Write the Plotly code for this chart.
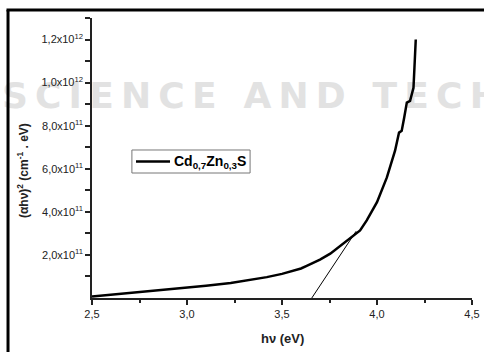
import plotly.graph_objects as go

# Data
hv = [2.50, 2.60, 2.75, 2.86, 2.95, 3.00, 3.10, 3.23, 3.35, 3.42, 3.50, 3.56, 3.60,
      3.63, 3.65, 3.70, 3.754, 3.789, 3.83, 3.876, 3.911, 3.946, 3.981, 4.00, 4.052,
      4.095, 4.116, 4.13, 4.143, 4.157, 4.174, 4.192, 4.197, 4.204]
ahv2_e11 = [0.07, 0.15, 0.27, 0.35, 0.42, 0.47, 0.57, 0.70, 0.86, 0.97, 1.12, 1.26, 1.37,
            1.49, 1.57, 1.78, 2.06, 2.30, 2.58, 2.91, 3.14, 3.60, 4.14, 4.45, 5.60,
            6.84, 7.68, 7.76, 8.37, 9.07, 9.15, 9.76, 10.68, 12.0]
ahv2 = [v * 1e11 for v in ahv2_e11]

tangent_x = [3.592, 3.89]
tangent_y = [-0.86e11, 3.1e11]

x_ticks = [2.5, 3.0, 3.5, 4.0, 4.5]
x_ticklabels = ["2,5", "3,0", "3,5", "4,0", "4,5"]
x_minor = [2.75, 3.25, 3.75, 4.25]
y_ticks = [2e11, 4e11, 6e11, 8e11, 1e12, 1.2e12]
y_ticklabels = ["2,0x10<sup>11</sup>", "4,0x10<sup>11</sup>", "6,0x10<sup>11</sup>",
                "8,0x10<sup>11</sup>", "1,0x10<sup>12</sup>", "1,2x10<sup>12</sup>"]
y_minor = [1e11, 3e11, 5e11, 7e11, 9e11, 1.1e12, 1.3e12]

series_name = "<b>Cd<sub>0,7</sub>Zn<sub>0,3</sub>S</b>"
watermark_words = ["SCIENCE", "AND", "TECHNOLOGY"]
watermark = "\u2009 \u2009".join("\u2009".join(w) for w in watermark_words)

FONT = "Liberation Sans, Arial, sans-serif"

fig = go.Figure()

fig.add_trace(go.Scatter(
    x=tangent_x, y=tangent_y, mode="lines",
    line=dict(color="black", width=1), showlegend=False, cliponaxis=False))

fig.add_trace(go.Scatter(
    x=hv, y=ahv2, mode="lines", name=series_name, showlegend=False,
    line=dict(color="black", width=2.5)))

# legend drawn by hand (box, sample line, label) in paper coordinates
lg_x0, lg_x1, lg_y0, lg_y1 = 0.105, 0.416, 0.4464, 0.5286
lg_ymid = (lg_y0 + lg_y1) / 2

fig.update_layout(
    width=484, height=352,
    margin=dict(l=92, r=12, t=18, b=54),
    paper_bgcolor="white", plot_bgcolor="rgba(0,0,0,0)",
    font=dict(family=FONT, size=11, color="#222"),
    showlegend=False,
    xaxis=dict(range=[2.5, 4.5], showgrid=False, zeroline=False,
               showline=True, linecolor="#222", linewidth=1.5,
               ticks="outside", ticklen=5, tickwidth=1.5, tickcolor="#222",
               tickvals=x_ticks, ticktext=x_ticklabels, automargin=False,
               minor=dict(tickvals=x_minor, ticks="outside", ticklen=3,
                          tickwidth=1.5, tickcolor="#222")),
    yaxis=dict(range=[0, 1.3e12], showgrid=False, zeroline=False,
               showline=True, linecolor="#222", linewidth=1.5,
               ticks="outside", ticklen=5, tickwidth=1.5, tickcolor="#222",
               tickvals=y_ticks, ticktext=y_ticklabels, automargin=False,
               minor=dict(tickvals=y_minor, ticks="outside", ticklen=5,
                          tickwidth=1.5, tickcolor="#222")),
    annotations=[
        dict(text="<b>hν (eV)</b>", xref="paper", yref="paper", x=0.5, y=-0.143,
             showarrow=False, font=dict(family=FONT, size=13, color="#222"),
             xanchor="center", yanchor="middle"),
        dict(text="<b>(αhν)<sup>2</sup> (cm<sup>-1</sup> . eV)</b>", xref="paper", yref="paper",
             x=-0.1816, y=0.457, showarrow=False, textangle=-90,
             font=dict(family=FONT, size=12, color="#222"),
             xanchor="center", yanchor="middle"),
        dict(text=series_name, xref="paper", yref="paper", x=0.2105, y=lg_ymid,
             showarrow=False, font=dict(family=FONT, size=14, color="black"),
             xanchor="left", yanchor="middle"),
    ],
    shapes=[
        # faint watermark behind everything
        dict(type="rect", xref="paper", yref="paper", x0=-0.245, x1=1.05,
             y0=0.70, y1=0.768, layer="below", line=dict(width=0),
             fillcolor="rgba(0,0,0,0)",
             label=dict(text="<b>" + watermark + "</b>", textposition="middle left",
                        padding=0,
                        font=dict(family="DejaVu Sans", size=36, color="#e2e2e2"))),
        dict(type="line", xref="paper", yref="paper", x0=-0.221, x1=-0.221,
             y0=1.0286, y1=-0.25, line=dict(color="black", width=3)),
        dict(type="line", xref="paper", yref="paper", x0=-0.225, x1=1.05,
             y0=1.0286, y1=1.0286, line=dict(color="black", width=3)),
        dict(type="rect", xref="paper", yref="paper", x0=lg_x0, x1=lg_x1,
             y0=lg_y0, y1=lg_y1, line=dict(color="#777", width=1), fillcolor="white"),
        dict(type="line", xref="paper", yref="paper", x0=0.1158, x1=0.2053,
             y0=lg_ymid, y1=lg_ymid, line=dict(color="black", width=2.5)),
    ],
)

fig.write_html("out.html", config={"displayModeBar": False},
               post_script="document.body.style.margin='0';document.body.style.overflow='hidden';")
